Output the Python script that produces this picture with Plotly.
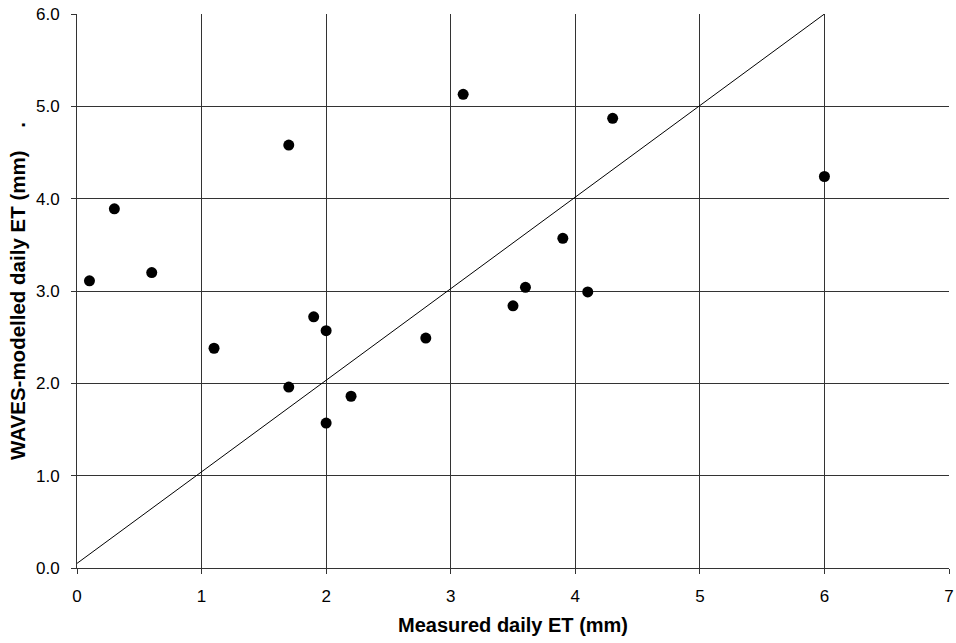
import plotly.graph_objects as go

# Measured vs WAVES-modelled daily evapotranspiration (mm)
measured_et = [0.1, 0.3, 0.6, 1.1, 1.7, 1.7, 1.9, 2.0, 2.0, 2.2,
               2.8, 3.1, 3.5, 3.6, 3.9, 4.1, 4.3, 6.0]
modelled_et = [3.11, 3.89, 3.20, 2.38, 4.58, 1.96, 2.72, 2.57, 1.57, 1.86,
               2.49, 5.13, 2.84, 3.04, 3.57, 2.99, 4.87, 4.24]

# 1:1 reference line
line_x = [0, 6]
line_y = [0.05, 6.0]

x_ticks = [0, 1, 2, 3, 4, 5, 6, 7]
y_ticks = [0.0, 1.0, 2.0, 3.0, 4.0, 5.0, 6.0]

font_family = "Liberation Sans, Arial, sans-serif"

fig = go.Figure()
fig.add_trace(go.Scatter(
    x=line_x, y=line_y, mode="lines",
    line=dict(color="black", width=1),
    hoverinfo="skip", showlegend=False,
))
fig.add_trace(go.Scatter(
    x=measured_et, y=modelled_et, mode="markers",
    marker=dict(color="black", size=11, line=dict(width=0)),
    showlegend=False,
))

axis_common = dict(
    showgrid=True, gridcolor="#333333", gridwidth=1,
    showline=True, linecolor="#333333", linewidth=1,
    ticks="outside", ticklen=5, tickcolor="#333333", tickwidth=1,
    zeroline=False, mirror=False, automargin=False,
    tickfont=dict(family=font_family, size=17, color="black"),
)

fig.update_layout(
    width=956, height=643,
    margin=dict(l=77, r=7, t=14, b=75),
    paper_bgcolor="white", plot_bgcolor="white",
    font=dict(family=font_family, color="black"),
    xaxis=dict(
        range=[0, 7], tickvals=x_ticks, ticktext=[str(v) for v in x_ticks],
        title=dict(text="<b>Measured daily ET (mm)</b>",
                   font=dict(family=font_family, size=20), standoff=12),
        ticklabelstandoff=8,
        **axis_common,
    ),
    yaxis=dict(
        range=[0, 6], tickvals=y_ticks, ticktext=[f"{v:.1f}" for v in y_ticks],
        title=dict(text="<b>WAVES-modelled daily ET (mm)\u00a0\u00a0\u00a0\u00a0.</b>",
                   font=dict(family=font_family, size=20.5), standoff=4),
        ticklabelstandoff=8,
        **axis_common,
    ),
)

fig.write_html("out.html")
